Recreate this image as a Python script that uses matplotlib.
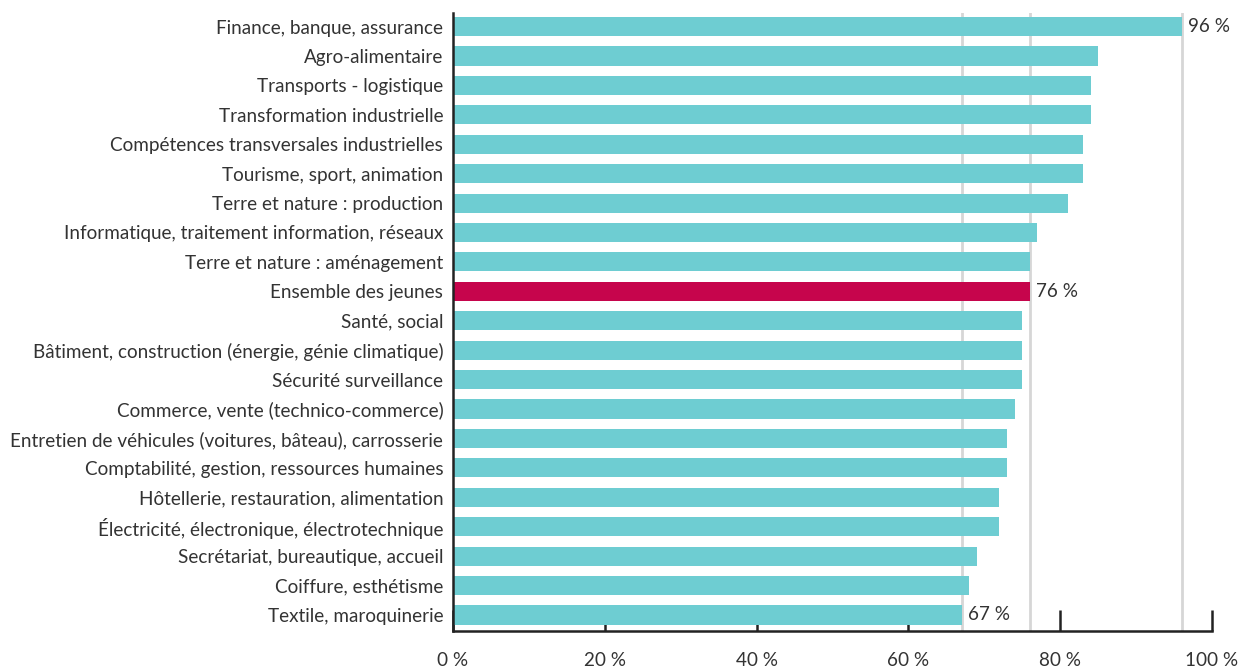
import matplotlib.pyplot as plt

plt.rcParams['font.family'] = ['Lato', 'DejaVu Sans']

# Share of young people by training field (%)
categories = [
    "Finance, banque, assurance",
    "Agro-alimentaire",
    "Transports - logistique",
    "Transformation industrielle",
    "Compétences transversales industrielles",
    "Tourisme, sport, animation",
    "Terre et nature : production",
    "Informatique, traitement information, réseaux",
    "Terre et nature : aménagement",
    "Ensemble des jeunes",
    "Santé, social",
    "Bâtiment, construction (énergie, génie climatique)",
    "Sécurité surveillance",
    "Commerce, vente (technico-commerce)",
    "Entretien de véhicules (voitures, bâteau), carrosserie",
    "Comptabilité, gestion, ressources humaines",
    "Hôtellerie, restauration, alimentation",
    "Électricité, électronique, électrotechnique",
    "Secrétariat, bureautique, accueil",
    "Coiffure, esthétisme",
    "Textile, maroquinerie",
]
values = [96, 85, 84, 84, 83, 83, 81, 77, 76, 76, 75, 75, 75, 74, 73, 73, 72, 72, 69, 68, 67]
highlight = "Ensemble des jeunes"
labelled = {"Finance, banque, assurance", "Ensemble des jeunes", "Textile, maroquinerie"}
x_ticks = [0, 20, 40, 60, 80, 100]

teal = '#6ecdd2'
crimson = '#c6054c'
text_col = '#333333'
fs = 13.6

fig = plt.figure(figsize=(12.43, 6.68), dpi=100)
ax = fig.add_axes([453 / 1243, (668 - 631) / 668, (1212 - 453) / 1243, (631 - 13) / 668])

ypos = list(range(len(categories)))
colors = [crimson if c == highlight else teal for c in categories]

# reference lines at max, overall and min values
for c, v in zip(categories, values):
    if c in labelled:
        ax.axvline(v, color='#d6d6d6', lw=2, zorder=0)

ax.barh(ypos, values, height=0.65, color=colors, zorder=2)

for y, c, v in zip(ypos, categories, values):
    if c in labelled:
        ax.text(v + 0.8, y, f"{v} %", va='center', ha='left', fontsize=fs, color=text_col)

ax.set_ylim(len(categories) - 1 + 0.545, -0.46)
ax.set_xlim(0, 100)
ax.set_yticks(ypos)
ax.set_yticklabels(categories, fontsize=fs, color=text_col)
ax.tick_params(axis='y', length=0, pad=7)
ax.set_xticks(x_ticks)
ax.set_xticklabels([f"{t} %" for t in x_ticks], fontsize=fs, color=text_col)
ax.tick_params(axis='x', direction='in', length=15, width=1.8, color='#222222', pad=15)

for side in ('top', 'right'):
    ax.spines[side].set_visible(False)
for side in ('left', 'bottom'):
    ax.spines[side].set_linewidth(1.8)
    ax.spines[side].set_color('#222222')

fig.savefig('out.png', dpi=100)
